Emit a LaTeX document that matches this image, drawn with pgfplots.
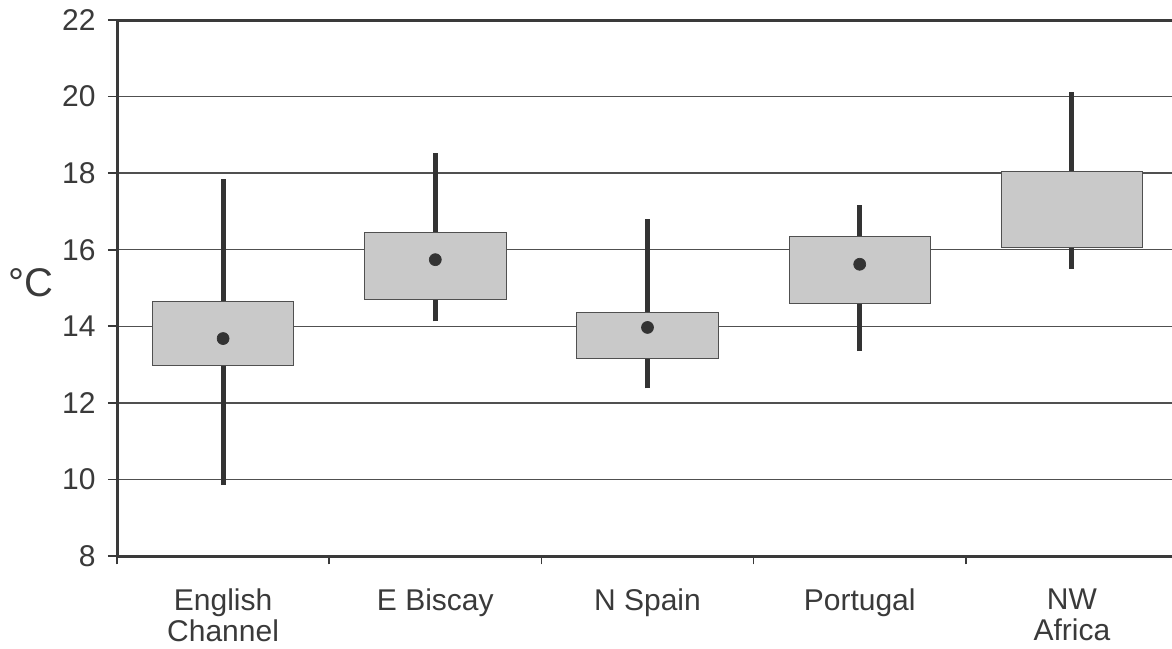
\documentclass[border=0pt]{standalone}
\usepackage{pgfplots}
\pgfplotsset{compat=1.18}
\usepackage{fontspec}
\setmainfont{Liberation Sans}
\definecolor{axisgray}{HTML}{3A3A3A}
\definecolor{gridgray}{HTML}{505050}
\definecolor{boxfill}{HTML}{C9C9C9}
\definecolor{whisk}{HTML}{333333}
\begin{document}
\begin{tikzpicture}
\path[use as bounding box] (0,0) rectangle (703.2pt,388.8pt);
\begin{axis}[
  at={(70.2pt,55.2pt)}, anchor=south west,
  scale only axis, width=636.6pt, height=321.6pt,
  xmin=0.5, xmax=5.5, ymin=8, ymax=22,
  ytick={8,10,...,22},
  xtick={1,2,3,4,5},
  xticklabels={English\\Channel, E Biscay, N Spain, Portugal, NW\\Africa},
  minor xtick={0.5,1.5,...,5.5},
  xtick style={draw=none},
  minor x tick style={draw=axisgray, line width=1pt},
  minor tick length=5pt,
  major tick length=5.4pt,
  ytick style={draw=axisgray, line width=1pt},
  tick align=outside,
  xtick pos=bottom, ytick pos=left,
  ymajorgrids,
  major grid style={draw=gridgray, line width=0.9pt},
  axis line style={draw=axisgray, line width=1.8pt},
  /pgf/number format/assume math mode=true,
  yticklabel style={font=\fontsize{18}{21}\selectfont, text=axisgray, xshift=-4pt},
  xticklabel style={font=\fontsize{18}{18.6}\selectfont, text=axisgray, align=center, yshift=-10.5pt},
  ylabel={°C},
  ylabel style={rotate=-90, at={(axis description cs:-0.081,0.51)}, anchor=center, font=\fontsize{24}{28}\selectfont, text=axisgray},
]
% whiskers
\addplot[whisk, line width=3pt] coordinates {(1,9.85) (1,17.85)};
\addplot[whisk, line width=3pt] coordinates {(2,14.13) (2,18.52)};
\addplot[whisk, line width=3pt] coordinates {(3,12.38) (3,16.8)};
\addplot[whisk, line width=3pt] coordinates {(4,13.35) (4,17.16)};
\addplot[whisk, line width=3pt] coordinates {(5,15.5) (5,20.12)};
% boxes
\addplot[fill=boxfill, draw=gridgray, line width=0.5pt] coordinates {(0.667,12.98) (1.333,12.98) (1.333,14.66) (0.667,14.66)} -- cycle;
\addplot[fill=boxfill, draw=gridgray, line width=0.5pt] coordinates {(1.667,14.70) (2.333,14.70) (2.333,16.46) (1.667,16.46)} -- cycle;
\addplot[fill=boxfill, draw=gridgray, line width=0.5pt] coordinates {(2.667,13.16) (3.333,13.16) (3.333,14.35) (2.667,14.35)} -- cycle;
\addplot[fill=boxfill, draw=gridgray, line width=0.5pt] coordinates {(3.667,14.60) (4.333,14.60) (4.333,16.36) (3.667,16.36)} -- cycle;
\addplot[fill=boxfill, draw=gridgray, line width=0.5pt] coordinates {(4.667,16.06) (5.333,16.06) (5.333,18.04) (4.667,18.04)} -- cycle;
% means
\addplot[only marks, mark=*, mark size=3.6pt, mark options={fill=whisk, draw=whisk}] coordinates {(1,13.68) (2,15.74) (3,13.97) (4,15.62)};
\end{axis}
\end{tikzpicture}
\end{document}
